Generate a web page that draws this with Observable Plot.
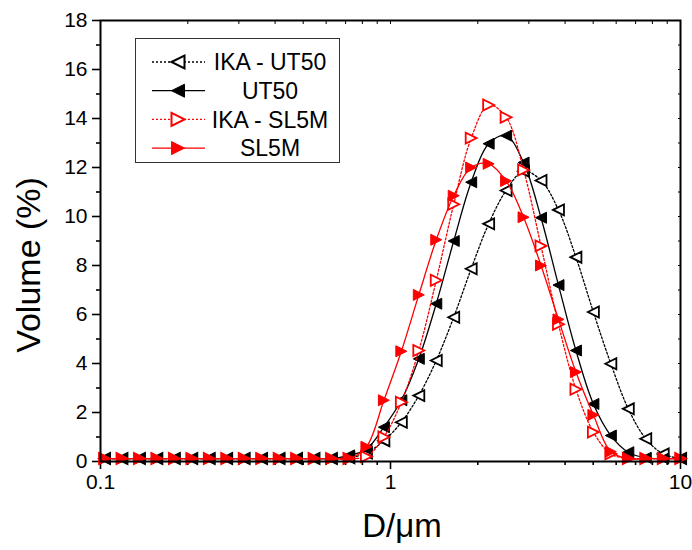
<!DOCTYPE html>
<html>
<head>
<meta charset="utf-8">
<script src="https://cdn.jsdelivr.net/npm/d3@7"></script>
<script src="https://cdn.jsdelivr.net/npm/@observablehq/plot@0.6"></script>
<style>
  html, body { margin: 0; padding: 0; background: #fff; }
  #wrap { position: relative; width: 692px; height: 550px; font-family: "Liberation Sans", Arial, sans-serif; }
  #legend { position: absolute; left: 0; top: 0; pointer-events: none; }
</style>
</head>
<body>
<div id="wrap"></div>
<script>
// Particle diameter classes (µm)
const diameters = [0.1033, 0.1186, 0.1363, 0.1565, 0.1798, 0.2065, 0.2372, 0.2725, 0.3130, 0.3595,
  0.4130, 0.4744, 0.5449, 0.6259, 0.7190, 0.8260, 0.9489, 1.0899, 1.2520, 1.4382,
  1.6520, 1.8977, 2.1800, 2.5042, 2.8766, 3.3037, 3.7950, 4.3592, 5.0073, 5.7518,
  6.6069, 7.5893, 8.7177, 10.014];

// Volume (%) per series
const ikaUT50 = [0.12, 0.12, 0.12, 0.12, 0.12, 0.12, 0.12, 0.12, 0.12, 0.12,
  0.12, 0.12, 0.12, 0.12, 0.15, 0.35, 0.85, 1.6, 2.69, 4.12,
  5.89, 7.87, 9.7, 11.06, 11.85, 11.47, 10.27, 8.34, 6.1, 3.99,
  2.15, 0.93, 0.31, 0.12];
const ut50 = [0.12, 0.12, 0.12, 0.12, 0.12, 0.12, 0.12, 0.12, 0.12, 0.12,
  0.12, 0.12, 0.12, 0.12, 0.25, 0.5, 1.4, 2.5, 4.19, 6.44,
  9.0, 11.4, 12.97, 13.3, 12.2, 9.95, 7.2, 4.53, 2.35, 1.06,
  0.38, 0.15, 0.12, 0.12];
const ikaSL5M = [0.12, 0.12, 0.12, 0.12, 0.12, 0.12, 0.12, 0.12, 0.12, 0.12,
  0.12, 0.12, 0.12, 0.12, 0.12, 0.2, 1.0, 2.42, 4.53, 7.4,
  10.5, 13.2, 14.55, 14.05, 11.9, 8.8, 5.6, 2.95, 1.2, 0.31,
  0.12, 0.12, 0.12, 0.12];
const sl5m = [0.12, 0.12, 0.12, 0.12, 0.12, 0.12, 0.12, 0.12, 0.12, 0.12,
  0.12, 0.12, 0.12, 0.12, 0.12, 0.6, 2.5, 4.5, 6.8, 9.05,
  10.85, 12.0, 12.15, 11.45, 9.97, 8.0, 5.8, 3.65, 1.9, 0.4,
  0.12, 0.12, 0.12, 0.12];

const seriesNames = ["IKA - UT50", "UT50", "IKA - SL5M", "SL5M"];
const xMajor = [0.1, 1, 10];
const xMinor = [0.2, 0.3, 0.4, 0.5, 0.6, 0.7, 0.8, 0.9, 2, 3, 4, 5, 6, 7, 8, 9];
const yMajor = [0, 2, 4, 6, 8, 10, 12, 14, 16, 18];
const yMinor = [1, 3, 5, 7, 9, 11, 13, 15, 17];

// custom triangle symbols
const triRight = { draw(ctx, size) { const r = Math.sqrt(size / Math.PI); ctx.moveTo(r, 0); ctx.lineTo(-r, -r); ctx.lineTo(-r, r); ctx.closePath(); } };
const triLeft  = { draw(ctx, size) { const r = Math.sqrt(size / Math.PI); ctx.moveTo(-r, 0); ctx.lineTo(r, -r); ctx.lineTo(r, r); ctx.closePath(); } };

const styles = {
  "IKA - UT50": { color: "#000", dash: "2,2", symbol: triLeft, open: true },
  "UT50":       { color: "#000", dash: null,  symbol: triLeft, open: false },
  "IKA - SL5M": { color: "#ff0000", dash: "2,2", symbol: triRight, open: true },
  "SL5M":       { color: "#ff0000", dash: null,  symbol: triRight, open: false }
};
const valuesBySeries = { "IKA - UT50": ikaUT50, "UT50": ut50, "IKA - SL5M": ikaSL5M, "SL5M": sl5m };

const marks = [];
for (const name of seriesNames) {
  const st = styles[name];
  const data = diameters.map((d, i) => ({ d, v: valuesBySeries[name][i] }));
  marks.push(Plot.line(data, { x: "d", y: "v", stroke: st.color, strokeWidth: 1.3, strokeDasharray: st.dash, curve: "catmull-rom" }));
  marks.push(Plot.dot(data, { x: "d", y: "v", symbol: () => st.symbol, r: 5.5,
    fill: st.open ? "#fff" : st.color, stroke: st.color, strokeWidth: st.open ? 1.8 : 1 }));
}

const font = "'Liberation Sans', Arial, sans-serif";
const chart = Plot.plot({
  width: 692, height: 550,
  marginLeft: 100, marginRight: 12, marginTop: 20, marginBottom: 89,
  x: { type: "log", domain: [0.1, 10] },
  y: { domain: [0, 18] },
  style: { fontFamily: font, background: "#fff", color: "#000", overflow: "visible" },
  marks: [
    Plot.axisX({ ticks: xMajor, tickFormat: d => String(d), tickSize: 8, tickPadding: 5, fontSize: 21, strokeWidth: 1.6, label: null }),
    Plot.axisX({ ticks: xMinor, tickFormat: () => "", tickSize: 4, strokeWidth: 1.6, label: null }),
    Plot.axisX({ anchor: "top", ticks: xMajor.concat(xMinor), tickFormat: () => "", tickSize: -3, strokeWidth: 1, label: null }),
    Plot.axisY({ ticks: yMajor, tickFormat: d => String(d), tickSize: 8, tickPadding: 5, fontSize: 21, strokeWidth: 1.6, label: null }),
    Plot.axisY({ ticks: yMinor, tickFormat: () => "", tickSize: 4, strokeWidth: 1.6, label: null }),
    Plot.axisY({ anchor: "right", ticks: yMajor.concat(yMinor), tickFormat: () => "", tickSize: -3, strokeWidth: 1, label: null }),
    ...marks,
    Plot.frame({ stroke: "#000", strokeWidth: 2 })
  ]
});

const wrap = document.getElementById("wrap");
wrap.appendChild(chart);

// axis titles
const svg = d3.select(chart);
svg.append("text").attr("x", 402).attr("y", 537).attr("text-anchor", "middle")
  .attr("font-family", font).attr("font-size", 33).attr("fill", "#000").text("D/μm");
svg.append("text").attr("transform", "translate(40,265) rotate(-90)").attr("text-anchor", "middle")
  .attr("font-family", font).attr("font-size", 34).attr("fill", "#000").text("Volume (%)");

// legend overlay
const lg = d3.select(wrap).append("svg").attr("id", "legend").attr("width", 692).attr("height", 550);
lg.append("rect").attr("x", 135.5).attr("y", 38.5).attr("width", 204).attr("height", 124)
  .attr("fill", "#fff").attr("stroke", "#333").attr("stroke-width", 1);
seriesNames.forEach((name, i) => {
  const st = styles[name];
  const cy = 62 + i * 28.7;
  lg.append("line").attr("x1", 152).attr("x2", 205).attr("y1", cy).attr("y2", cy)
    .attr("stroke", st.color).attr("stroke-width", 1.3).attr("stroke-dasharray", st.dash);
  lg.append("path").attr("transform", `translate(178,${cy})`)
    .attr("d", d3.symbol(st.symbol, Math.PI * 6.5 * 6.5)())
    .attr("fill", st.open ? "#fff" : st.color).attr("stroke", st.color).attr("stroke-width", st.open ? 2 : 1);
  lg.append("text").attr("x", 270).attr("y", cy).attr("dy", "0.36em").attr("text-anchor", "middle")
    .attr("font-family", font).attr("font-size", 23).attr("fill", "#000").text(name);
});
</script>
</body>
</html>
